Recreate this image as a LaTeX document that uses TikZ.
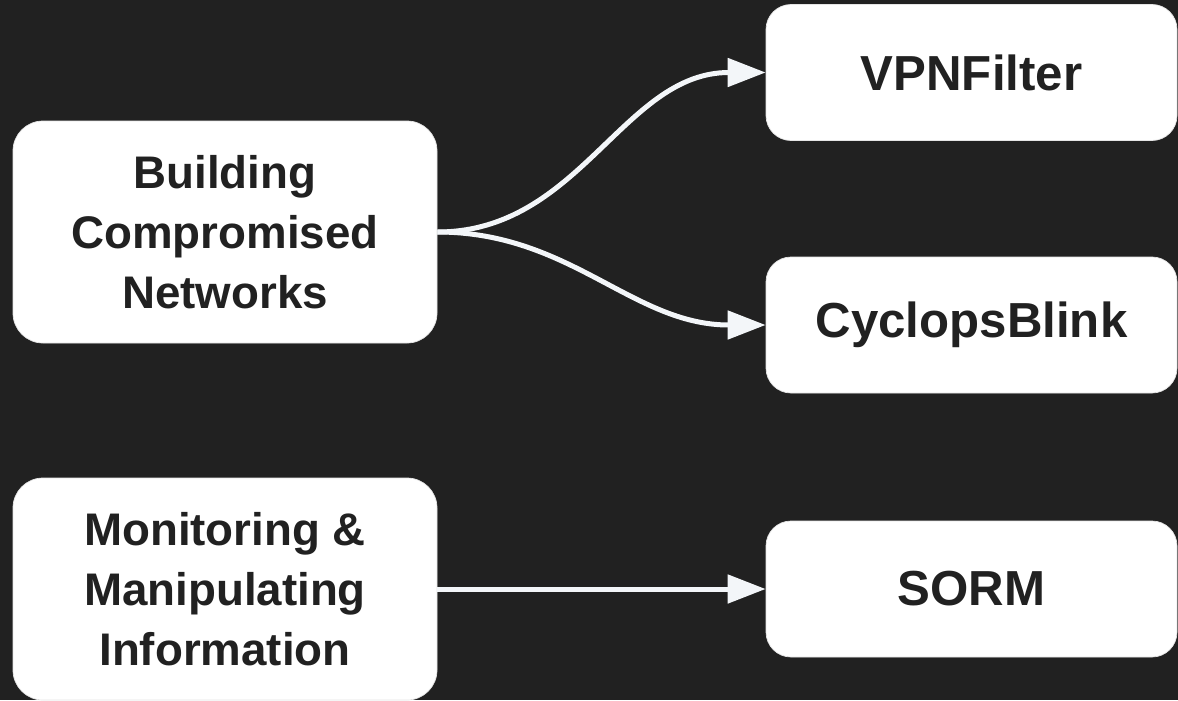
\documentclass[tikz,border=0pt]{standalone}
\usepackage{fontspec}
\setmainfont{Liberation Sans}
\usetikzlibrary{positioning, arrows.meta}

\definecolor{bgdark}{HTML}{212121}
\definecolor{inkdark}{HTML}{212121}
\definecolor{arrowgrey}{HTML}{F3F6F9}

\begin{document}
\begin{tikzpicture} [node distance = 2cm,
            on grid,
            topic/.style = {draw=gray!20, fill=white,
                rounded corners=0.6cm,
                minimum width=8.48cm, minimum height=4.44cm,
                align=center, text=inkdark,
                font=\fontsize{26}{34}\selectfont\bfseries},
            tool/.style = {draw=gray!20, fill=white,
                rounded corners=0.5cm,
                minimum width=8.22cm, minimum height=2.72cm,
                align=center, text=inkdark,
                font=\fontsize{28}{34}\selectfont\bfseries},
            link/.style = {draw=arrowgrey, line width=0.1cm,
                -{Triangle[length=0.76cm, width=0.56cm, fill=arrowgrey]}}]

        % Background
        \fill [bgdark] (0,0) rectangle (23.56,-14);
        \useasboundingbox (0,0) rectangle (23.56,-14);

        % Topic: building networks
        \node (building) [topic] at (4.5,-4.64)
            {Building\\Compromised\\Networks};

        % Tool VPNFilter
        \node (vpnfilter) [tool,
            above right = 3.19cm and 14.93cm of building] {VPNFilter};

        % Tool CyclopsBlink
        \node (cyclops) [tool,
            below right = 1.86cm and 14.93cm of building] {CyclopsBlink};

        % Topic: monitoring
        \node (monitoring) [topic,
            below = 7.14cm of building]
            {Monitoring \&\\Manipulating\\Information};

        % Tool SORM
        \node (sorm) [tool,
            right = 14.93cm of monitoring] {SORM};

        % Arrows
        \draw [link] (building.east) to [out=0, in=180] (vpnfilter.west);
        \draw [link] (building.east) to [out=0, in=180] (cyclops.west);
        \draw [link] (monitoring.east) -- (sorm.west);
        \end{tikzpicture}
\end{document}
